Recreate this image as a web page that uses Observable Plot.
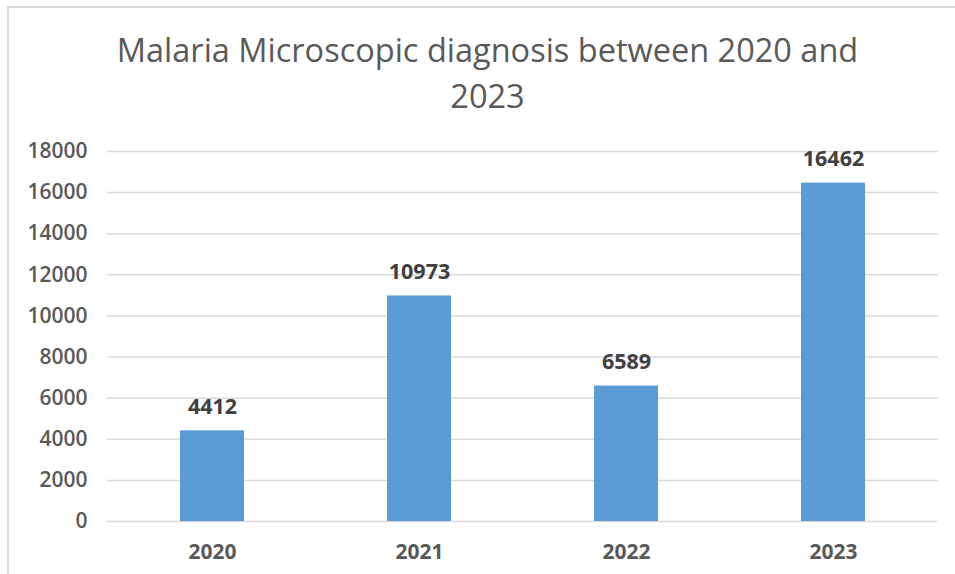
<!DOCTYPE html>
<html>
<head>
<meta charset="utf-8">
<script src="https://cdn.jsdelivr.net/npm/d3@7"></script>
<script src="https://cdn.jsdelivr.net/npm/@observablehq/plot@0.6"></script>
<style>
  html, body { margin: 0; padding: 0; background: #fff; }
  body { width: 955px; height: 574px; overflow: hidden; position: relative; font-family: "Open Sans", sans-serif; }
  #frame { position: absolute; left: 7px; top: 6px; width: 960px; height: 600px; border-left: 2px solid #d9d9d9; border-top: 2px solid #d9d9d9; box-sizing: border-box; pointer-events: none; }
  #title { position: absolute; left: 0; top: 27px; width: 975px; text-align: center; font-size: 32.5px; line-height: 46px; color: #595959; font-weight: 400; }
  #chart { position: absolute; left: 0; top: 125px; }
</style>
</head>
<body>
<div id="frame"></div>
<div id="title">Malaria Microscopic diagnosis between 2020 and<br>2023</div>
<div id="chart"></div>
<script>
const years = ["2020", "2021", "2022", "2023"];
const counts = [4412, 10973, 6589, 16462];
const yTicks = [0, 2000, 4000, 6000, 8000, 10000, 12000, 14000, 16000, 18000];

const data = years.map((y, i) => ({year: y, count: counts[i]}));

const chart = Plot.plot({
  width: 955,
  height: 449,
  marginTop: 26,
  marginBottom: 53,
  marginLeft: 107,
  marginRight: 17,
  style: {fontFamily: "Open Sans, sans-serif", color: "#595959", background: "transparent"},
  x: {domain: years, paddingInner: 0.69, paddingOuter: 0.345, label: null},
  y: {domain: [0, 18000], label: null},
  marks: [
    Plot.ruleY(yTicks, {stroke: "#d9d9d9", strokeWidth: 1.5}),
    Plot.barY(data, {x: "year", y: "count", fill: "#5b9bd5"}),
    Plot.text(data, {x: "year", y: "count", text: d => String(d.count), dy: -24, fontSize: 21.5, fontWeight: 700, fill: "#404040"}),
    Plot.axisY({ticks: yTicks, tickSize: 0, tickPadding: 20, fontSize: 21, fontWeight: 600, fill: "#595959", tickFormat: d => String(d), label: null}),
    Plot.axisX({tickSize: 0, tickPadding: 23, fontSize: 21, fontWeight: 700, fill: "#595959", label: null})
  ]
});
document.getElementById("chart").appendChild(chart);
</script>
</body>
</html>
